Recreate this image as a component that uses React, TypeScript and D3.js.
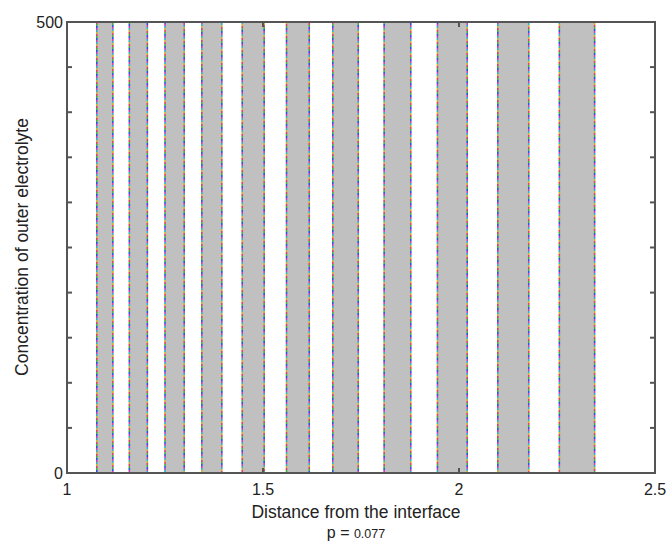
import React from "react";
import * as d3 from "d3";

// band limits (distance from the interface)
const bandStart = [1.076, 1.159, 1.250, 1.344, 1.447, 1.560, 1.678, 1.809, 1.945, 2.099, 2.256];
const bandEnd = [1.117, 1.205, 1.299, 1.395, 1.503, 1.618, 1.743, 1.877, 2.021, 2.178, 2.346];
const xTicks = [1, 1.5, 2, 2.5];
const yTicks = [0, 50, 100, 150, 200, 250, 300, 350, 400, 450, 500];
const yLabeled = [0, 500];
const edgeColors = ["#e04060", "#40b040", "#3050e0", "#c040c0", "#30b0c0", "#d0b030"];

const W = 667;
const H = 543;
const left = 67, right = 655, top = 22, bottom = 473;

function App() {
    const x = d3.scaleLinear().domain([1, 2.5]).range([left, right]);
    const y = d3.scaleLinear().domain([0, 500]).range([bottom, top]);
    const axisCol = "#555";
    const font = "'Liberation Sans', Arial, sans-serif";
    const tk = 5; // tick length, drawn inward

    const bands = bandStart.map((s, i) => ({ s: s, e: bandEnd[i] }));
    const edges = bands.flatMap((b) => [b.s, b.e]);

    return (
        <svg width={W} height={H} style={{ position: "absolute", left: 0, top: 0, background: "#fff" }}>
            {/* gray bands */}
            {bands.map((b, i) => (
                <rect key={"b" + i} x={x(b.s)} y={y(500)} width={x(b.e) - x(b.s)} height={y(0) - y(500)} fill="#c0c0c0" />
            ))}
            {/* multicoloured dotted edges */}
            {edges.map((v, i) =>
                edgeColors.map((c, j) => (
                    <line key={"e" + i + "_" + j} x1={x(v)} x2={x(v)} y1={y(500)} y2={y(0)}
                        stroke={c} strokeWidth={1.6} strokeDasharray={"2 " + (edgeColors.length * 2 - 2)}
                        strokeDashoffset={-j * 2 + i} />
                ))
            )}
            {/* box */}
            <rect x={left} y={top} width={right - left} height={bottom - top} fill="none" stroke={axisCol} strokeWidth={2} />
            {/* x ticks */}
            {xTicks.map((t) => (
                <g key={"xt" + t}>
                    <line x1={x(t)} x2={x(t)} y1={bottom} y2={bottom - tk} stroke={axisCol} strokeWidth={2} />
                    <line x1={x(t)} x2={x(t)} y1={top} y2={top + tk} stroke={axisCol} strokeWidth={2} />
                    <text x={x(t)} y={bottom + 22} textAnchor="middle" fontFamily={font} fontSize={16} fill="#222">{t}</text>
                </g>
            ))}
            {/* y ticks */}
            {yTicks.map((t) => (
                <g key={"yt" + t}>
                    <line x1={left} x2={left + tk} y1={y(t)} y2={y(t)} stroke={axisCol} strokeWidth={2} />
                    <line x1={right} x2={right - tk} y1={y(t)} y2={y(t)} stroke={axisCol} strokeWidth={2} />
                </g>
            ))}
            {yLabeled.map((t) => (
                <text key={"yl" + t} x={left - 4} y={y(t) + 6} textAnchor="end" fontFamily={font} fontSize={16} fill="#222">{t}</text>
            ))}
            {/* axis titles */}
            <text x={356} y={518} textAnchor="middle" fontFamily={font} fontSize={17.5} fill="#222">Distance from the interface</text>
            <text x={356} y={538} textAnchor="middle" fontFamily={font} fill="#222">
                <tspan fontSize={16}>p = </tspan><tspan fontSize={12.5}>0.077</tspan>
            </text>
            <text transform={"translate(28," + 247 + ") rotate(-90)"} textAnchor="middle" fontFamily={font} fontSize={17.5} fill="#222">
                Concentration of outer electrolyte
            </text>
        </svg>
    );
}

export default App;
